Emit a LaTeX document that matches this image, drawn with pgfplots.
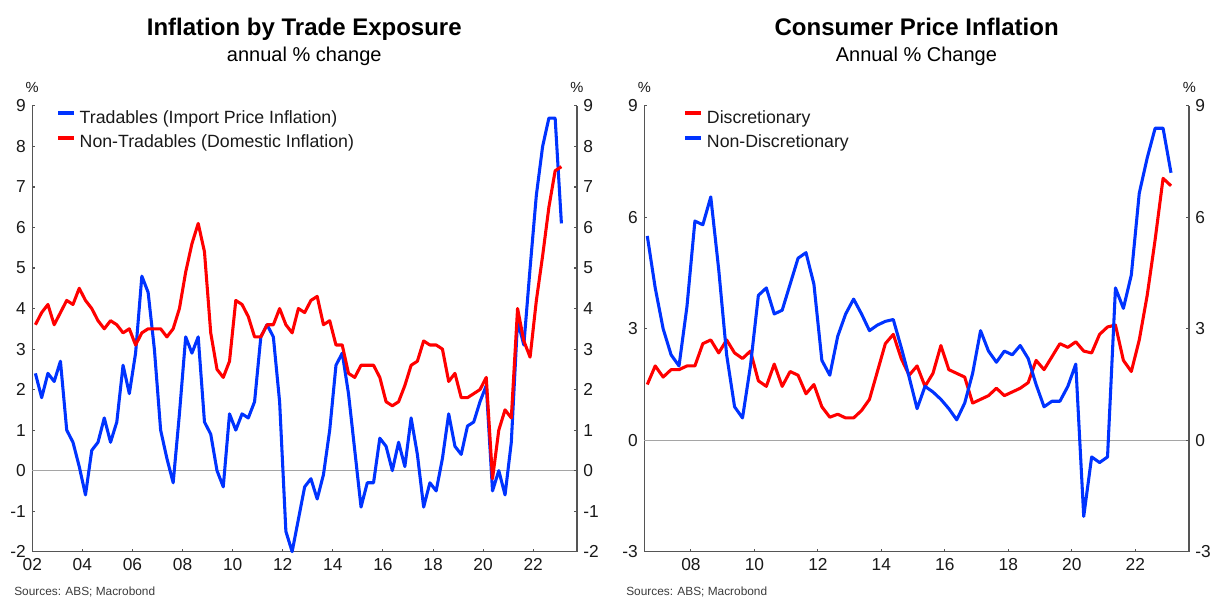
\documentclass[border=0pt]{standalone}
\usepackage{fontspec}
\setmainfont{Liberation Sans}
\usepackage{pgfplots}
\pgfplotsset{compat=1.18}
\definecolor{cblue}{RGB}{0,51,255}
\definecolor{cred}{RGB}{255,0,0}
\definecolor{axgray}{RGB}{85,85,85}
\definecolor{zerogray}{RGB}{165,165,165}
\definecolor{txt}{RGB}{25,25,25}
\pgfplotsset{
  base/.style={
    scale only axis, width=408.5pt, height=334.3pt,
    axis line style={axgray, line width=0.9pt},
    tick style={axgray, line width=0.8pt},
    major tick length=2.2pt,
    tick label style={font=\fontsize{13}{15}\selectfont, text=txt},
    clip=false,
  },
  leg/.style={
    legend style={at={(#1,0.991)}, anchor=north west, draw=none, fill=none,
      inner sep=0pt, outer sep=0pt, row sep=5.5pt, column sep=3pt,
      font=\fontsize{13.3}{15}\selectfont, text=txt,
      nodes={inner sep=0pt, text height=10pt, text depth=3pt}},
    legend cell align=left,
    legend image code/.code={\draw[##1, line width=3pt] (0pt,4.3pt) -- (11.6pt,4.3pt);},
  },
  line/.style={#1, line width=2.3pt, line join=round},
}
\begin{document}
\begin{tikzpicture}
\useasboundingbox (0,0) rectangle (907.5pt,449.25pt);
% ---------------- Left panel ----------------
\begin{axis}[base, leg=0.044, at={(24.2pt,35.5pt)}, anchor=south west,
  xmin=2002, xmax=2023.745, ymin=-2, ymax=9,
  axis x line*=bottom, axis y line*=left,
  xtick={2002,2004,...,2022}, xticklabels={02,04,06,08,10,12,14,16,18,20,22},
  ytick={-2,-1,0,1,2,3,4,5,6,7,8,9}, yticklabels={-2,-1,0,1,2,3,4,5,6,7,8,9},
  xtick align=inside, ytick align=inside,
  xticklabel style={anchor=north, inner sep=0pt, yshift=-5.2pt},
  yticklabel style={anchor=east, inner sep=0pt, xshift=-4.7pt},
]
\addplot[zerogray, line width=0.8pt, forget plot] coordinates {(2002,0) (2023.745,0)};
\addplot[line=cblue] coordinates {
(2002.125,2.4)(2002.375,1.8)(2002.625,2.4)(2002.875,2.2)
(2003.125,2.7)(2003.375,1.0)(2003.625,0.7)(2003.875,0.1)
(2004.125,-0.6)(2004.375,0.5)(2004.625,0.7)(2004.875,1.3)
(2005.125,0.7)(2005.375,1.2)(2005.625,2.6)(2005.875,1.9)
(2006.125,2.9)(2006.375,4.8)(2006.625,4.4)(2006.875,3.0)
(2007.125,1.0)(2007.375,0.3)(2007.625,-0.3)(2007.875,1.4)
(2008.125,3.3)(2008.375,2.9)(2008.625,3.3)(2008.875,1.2)
(2009.125,0.9)(2009.375,0.0)(2009.625,-0.4)(2009.875,1.4)
(2010.125,1.0)(2010.375,1.4)(2010.625,1.3)(2010.875,1.7)
(2011.125,3.3)(2011.375,3.6)(2011.625,3.3)(2011.875,1.7)
(2012.125,-1.5)(2012.375,-2.0)(2012.625,-1.2)(2012.875,-0.4)
(2013.125,-0.2)(2013.375,-0.7)(2013.625,-0.1)(2013.875,1.0)
(2014.125,2.6)(2014.375,2.9)(2014.625,1.9)(2014.875,0.5)
(2015.125,-0.9)(2015.375,-0.3)(2015.625,-0.3)(2015.875,0.8)
(2016.125,0.6)(2016.375,0.0)(2016.625,0.7)(2016.875,0.1)
(2017.125,1.3)(2017.375,0.4)(2017.625,-0.9)(2017.875,-0.3)
(2018.125,-0.5)(2018.375,0.3)(2018.625,1.4)(2018.875,0.6)
(2019.125,0.4)(2019.375,1.1)(2019.625,1.2)(2019.875,1.7)
(2020.125,2.1)(2020.375,-0.5)(2020.625,0.0)(2020.875,-0.6)
(2021.125,0.7)(2021.375,3.7)(2021.625,3.1)(2021.875,5.0)
(2022.125,6.8)(2022.375,8.0)(2022.625,8.7)(2022.875,8.7)
(2023.125,6.1)};
\addlegendentry{Tradables (Import Price Inflation)}
\addplot[line=cred] coordinates {
(2002.125,3.6)(2002.375,3.9)(2002.625,4.1)(2002.875,3.6)
(2003.125,3.9)(2003.375,4.2)(2003.625,4.1)(2003.875,4.5)
(2004.125,4.2)(2004.375,4.0)(2004.625,3.7)(2004.875,3.5)
(2005.125,3.7)(2005.375,3.6)(2005.625,3.4)(2005.875,3.5)
(2006.125,3.1)(2006.375,3.4)(2006.625,3.5)(2006.875,3.5)
(2007.125,3.5)(2007.375,3.3)(2007.625,3.5)(2007.875,4.0)
(2008.125,4.9)(2008.375,5.6)(2008.625,6.1)(2008.875,5.4)
(2009.125,3.4)(2009.375,2.5)(2009.625,2.3)(2009.875,2.7)
(2010.125,4.2)(2010.375,4.1)(2010.625,3.8)(2010.875,3.3)
(2011.125,3.3)(2011.375,3.6)(2011.625,3.6)(2011.875,4.0)
(2012.125,3.6)(2012.375,3.4)(2012.625,4.0)(2012.875,3.9)
(2013.125,4.2)(2013.375,4.3)(2013.625,3.6)(2013.875,3.7)
(2014.125,3.1)(2014.375,3.1)(2014.625,2.4)(2014.875,2.3)
(2015.125,2.6)(2015.375,2.6)(2015.625,2.6)(2015.875,2.3)
(2016.125,1.7)(2016.375,1.6)(2016.625,1.7)(2016.875,2.1)
(2017.125,2.6)(2017.375,2.7)(2017.625,3.2)(2017.875,3.1)
(2018.125,3.1)(2018.375,3.0)(2018.625,2.2)(2018.875,2.4)
(2019.125,1.8)(2019.375,1.8)(2019.625,1.9)(2019.875,2.0)
(2020.125,2.3)(2020.375,-0.2)(2020.625,1.0)(2020.875,1.5)
(2021.125,1.3)(2021.375,4.0)(2021.625,3.2)(2021.875,2.8)
(2022.125,4.2)(2022.375,5.3)(2022.625,6.5)(2022.875,7.4)
(2023.125,7.5)};
\addlegendentry{Non-Tradables (Domestic Inflation)}
\end{axis}
\begin{axis}[base, at={(24.2pt,35.5pt)}, anchor=south west,
  xmin=2002, xmax=2023.745, ymin=-2, ymax=9,
  axis x line=none, axis y line*=right,
  ytick={-2,-1,0,1,2,3,4,5,6,7,8,9}, yticklabels={-2,-1,0,1,2,3,4,5,6,7,8,9},
  ytick align=inside,
  yticklabel style={anchor=west, inner sep=0pt, xshift=4.7pt},
]
\addplot[draw=none, forget plot] coordinates {(2002,0)};
\end{axis}
% ---------------- Right panel ----------------
\begin{axis}[base, leg=0.072, at={(483.2pt,35.5pt)}, anchor=south west,
  xmin=2006.53, xmax=2023.69, ymin=-3, ymax=9,
  axis x line*=bottom, axis y line*=left,
  xtick={2008,2010,...,2022}, xticklabels={08,10,12,14,16,18,20,22},
  ytick={-3,0,3,6,9}, yticklabels={-3,0,3,6,9},
  xtick align=inside, ytick align=inside,
  xticklabel style={anchor=north, inner sep=0pt, yshift=-5.2pt},
  yticklabel style={anchor=east, inner sep=0pt, xshift=-4.7pt},
]
\addplot[zerogray, line width=0.8pt, forget plot] coordinates {(2006.53,0) (2023.69,0)};
\addplot[line=cred] coordinates {
(2006.625,1.5)(2006.875,2.0)
(2007.125,1.7)(2007.375,1.9)(2007.625,1.9)(2007.875,2.0)
(2008.125,2.0)(2008.375,2.6)(2008.625,2.7)(2008.875,2.35)
(2009.125,2.7)(2009.375,2.35)(2009.625,2.2)(2009.875,2.4)
(2010.125,1.6)(2010.375,1.45)(2010.625,2.05)(2010.875,1.45)
(2011.125,1.85)(2011.375,1.75)(2011.625,1.25)(2011.875,1.5)
(2012.125,0.9)(2012.375,0.62)(2012.625,0.7)(2012.875,0.6)
(2013.125,0.6)(2013.375,0.8)(2013.625,1.1)(2013.875,1.85)
(2014.125,2.6)(2014.375,2.85)(2014.625,2.2)(2014.875,1.75)
(2015.125,2.0)(2015.375,1.45)(2015.625,1.8)(2015.875,2.55)
(2016.125,1.9)(2016.375,1.8)(2016.625,1.7)(2016.875,1.0)
(2017.125,1.1)(2017.375,1.2)(2017.625,1.4)(2017.875,1.2)
(2018.125,1.3)(2018.375,1.4)(2018.625,1.55)(2018.875,2.15)
(2019.125,1.9)(2019.375,2.25)(2019.625,2.6)(2019.875,2.5)
(2020.125,2.65)(2020.375,2.4)(2020.625,2.35)(2020.875,2.85)
(2021.125,3.05)(2021.375,3.1)(2021.625,2.15)(2021.875,1.85)
(2022.125,2.7)(2022.375,3.9)(2022.625,5.4)(2022.875,7.05)
(2023.125,6.85)};
\addlegendentry{Discretionary}
\addplot[line=cblue] coordinates {
(2006.625,5.5)(2006.875,4.1)
(2007.125,3.0)(2007.375,2.3)(2007.625,2.0)(2007.875,3.6)
(2008.125,5.9)(2008.375,5.8)(2008.625,6.55)(2008.875,4.6)
(2009.125,2.3)(2009.375,0.9)(2009.625,0.6)(2009.875,2.0)
(2010.125,3.9)(2010.375,4.1)(2010.625,3.4)(2010.875,3.5)
(2011.125,4.2)(2011.375,4.9)(2011.625,5.05)(2011.875,4.2)
(2012.125,2.15)(2012.375,1.75)(2012.625,2.8)(2012.875,3.4)
(2013.125,3.8)(2013.375,3.4)(2013.625,2.95)(2013.875,3.1)
(2014.125,3.2)(2014.375,3.25)(2014.625,2.5)(2014.875,1.7)
(2015.125,0.85)(2015.375,1.45)(2015.625,1.3)(2015.875,1.1)
(2016.125,0.85)(2016.375,0.55)(2016.625,1.0)(2016.875,1.8)
(2017.125,2.95)(2017.375,2.4)(2017.625,2.1)(2017.875,2.4)
(2018.125,2.3)(2018.375,2.55)(2018.625,2.2)(2018.875,1.5)
(2019.125,0.9)(2019.375,1.05)(2019.625,1.05)(2019.875,1.45)
(2020.125,2.05)(2020.375,-2.05)(2020.625,-0.45)(2020.875,-0.6)
(2021.125,-0.45)(2021.375,4.1)(2021.625,3.55)(2021.875,4.45)
(2022.125,6.65)(2022.375,7.6)(2022.625,8.4)(2022.875,8.4)
(2023.125,7.2)};
\addlegendentry{Non-Discretionary}
\end{axis}
\begin{axis}[base, at={(483.2pt,35.5pt)}, anchor=south west,
  xmin=2006.53, xmax=2023.69, ymin=-3, ymax=9,
  axis x line=none, axis y line*=right,
  ytick={-3,0,3,6,9}, yticklabels={-3,0,3,6,9},
  ytick align=inside,
  yticklabel style={anchor=west, inner sep=0pt, xshift=4.7pt},
]
\addplot[draw=none, forget plot] coordinates {(2008,0)};
\end{axis}
% ---------------- Texts ----------------
\node[anchor=base, font=\bfseries\fontsize{18}{20}\selectfont] at (228.2pt,422.25pt) {Inflation by Trade Exposure};
\node[anchor=base, font=\fontsize{15}{17}\selectfont] at (228.2pt,403pt) {annual \% change};
\node[anchor=base, font=\bfseries\fontsize{18}{20}\selectfont] at (687.5pt,422.25pt) {Consumer Price Inflation};
\node[anchor=base, font=\fontsize{15}{17}\selectfont] at (687.3pt,403pt) {Annual \% Change};
\foreach \px in {24.2,432.75,483.2,892}{
  \node[anchor=base, inner sep=0pt, font=\fontsize{11}{13}\selectfont, text=txt] at (\px pt,379.8pt) {\%};
}
\node[anchor=base west, inner sep=0pt, font=\fontsize{8.9}{10}\selectfont, text=txt!85] at (10.5pt,2.6pt) {Sources: ABS; Macrobond};
\node[anchor=base west, inner sep=0pt, font=\fontsize{8.9}{10}\selectfont, text=txt!85] at (469.5pt,2.6pt) {Sources: ABS; Macrobond};
\end{tikzpicture}
\end{document}
